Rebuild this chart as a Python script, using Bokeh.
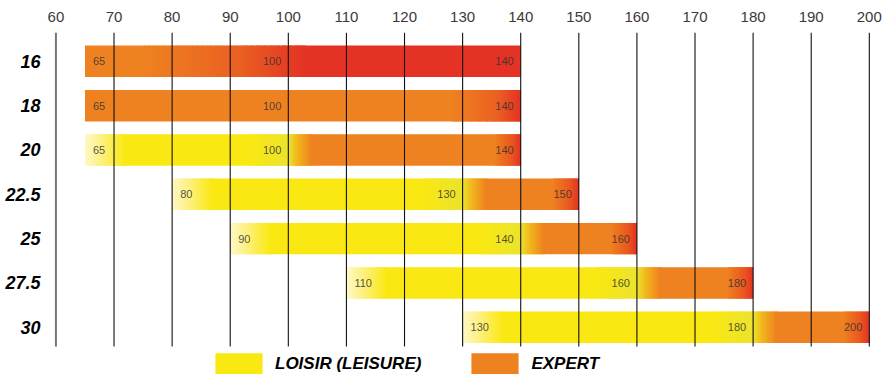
import numpy as np
from bokeh.plotting import figure
from bokeh.models import Range1d, FixedTicker, ColumnDataSource, Legend, LegendItem
from bokeh.embed import file_html
from bokeh.resources import INLINE
from bokeh.core.properties import value

# ---- data ----
rows = ["16", "18", "20", "22.5", "25", "27.5", "30"]
starts = [65, 65, 65, 80, 90, 110, 130]
mids = [100, 100, 100, 130, 140, 160, 180]
ends = [140, 140, 140, 150, 160, 180, 200]
styles = ["orange_red", "orange", "mixed", "mixed", "mixed", "mixed", "mixed"]
ticks = list(range(60, 201, 10))
legend_labels = ["LOISIR (LEISURE)", "EXPERT"]

# ---- colours ----
PALE = "#FEF8C8"
PALE2 = "#FDF07C"
YELLOW = "#FAE812"
DULL = "#EBE32E"
ORANGE = "#EF8220"
RED = "#E43224"


def hex2rgb(h):
    h = h.lstrip("#")
    return np.array([int(h[i:i + 2], 16) for i in (0, 2, 4)], dtype=float)


def rgb2hex(c):
    c = np.clip(np.round(c), 0, 255).astype(int)
    return "#%02x%02x%02x" % tuple(c)


def color_at(stops, x):
    if x <= stops[0][0]:
        return stops[0][1]
    for (x0, c0), (x1, c1) in zip(stops[:-1], stops[1:]):
        if x0 <= x <= x1:
            t = 0 if x1 == x0 else (x - x0) / (x1 - x0)
            return rgb2hex(hex2rgb(c0) * (1 - t) + hex2rgb(c1) * t)
    return stops[-1][1]


def make_stops(style, s, m, e):
    if style == "orange_red":
        return [(s, ORANGE), (s + 10, ORANGE), (m - 8, "#EA5F22"), (m + 3, RED), (e, RED)]
    if style == "orange":
        return [(s, ORANGE), (e - 12, ORANGE), (e - 4, "#EB6022"), (e, RED)]
    return [(s, PALE), (s + 3, PALE2), (s + 7, YELLOW), (m - 7, YELLOW), (m, DULL),
            (m + 1.5, "#F1B81C"), (m + 4, ORANGE), (e - 4.5, ORANGE), (e - 1.5, "#E9561F"), (e, RED)]


BAR_H = 0.71
STEP = 0.2
OVERLAP = 0.2
L, R, T, B, C = [], [], [], [], []
for i, (st, s, m, e) in enumerate(zip(styles, starts, mids, ends)):
    stops = make_stops(st, s, m, e)
    edges = np.arange(s, e + 1e-9, STEP)
    segs = []
    cur_l, cur_c = edges[0], None
    for a, b in zip(edges[:-1], edges[1:]):
        c = color_at(stops, (a + b) / 2)
        if cur_c is None:
            cur_c, cur_l = c, a
        elif c != cur_c:
            segs.append((cur_l, a, cur_c))
            cur_l, cur_c = a, c
    segs.append((cur_l, edges[-1], cur_c))
    for k, (a, b, c) in enumerate(segs):
        rr = b if k == len(segs) - 1 else min(b + OVERLAP, e)
        L.append(a); R.append(rr); T.append(i - BAR_H / 2); B.append(i + BAR_H / 2); C.append(c)

bars = ColumnDataSource(dict(left=L, right=R, top=T, bottom=B, color=C))

p = figure(width=896, height=374,
           x_range=Range1d(59.41, 204.68), y_range=Range1d(7.065, -0.65),
           x_axis_location="above", y_axis_location="left",
           output_backend="svg", toolbar_location=None,
           min_border_left=52, min_border_right=0, min_border_top=32, min_border_bottom=0)
p.outline_line_color = None
p.xgrid.visible = False
p.ygrid.visible = False
p.background_fill_color = "white"
p.border_fill_color = "white"

p.quad(left="left", right="right", top="top", bottom="bottom", fill_color="color",
       line_color=None, source=bars)

# vertical grid lines on top of bars
GRID_TOP, GRID_BOTTOM = -0.65, 6.434
gcol = ["#777777" if t == ticks[0] else "#111111" for t in ticks]
gw = [2.0 if t == ticks[0] else 1.1 for t in ticks]
p.segment(x0=ticks, x1=ticks, y0=[GRID_TOP] * len(ticks), y1=[GRID_BOTTOM] * len(ticks),
          line_color=gcol, line_width=gw)

# value labels inside bars
idx = list(range(len(rows)))
lab_src_start = ColumnDataSource(dict(x=starts, y=idx, t=[str(v) for v in starts]))
lab_src_end = ColumnDataSource(dict(x=mids + ends, y=idx + idx, t=[str(v) for v in mids + ends]))
p.text(x="x", y="y", text="t", source=lab_src_start, x_offset=8, text_align="left",
       text_baseline="middle", text_font=value("Liberation Sans"), text_font_size="11px",
       text_color="#333333", text_alpha=0.85)
p.text(x="x", y="y", text="t", source=lab_src_end, x_offset=-7, text_align="right",
       text_baseline="middle", text_font=value("Liberation Sans"), text_font_size="11px",
       text_color="#333333", text_alpha=0.85)

# axes
xa = p.xaxis[0]
xa.ticker = FixedTicker(ticks=ticks)
xa.axis_line_color = None
xa.major_tick_line_color = None
xa.minor_tick_line_color = None
xa.major_label_text_font = "Liberation Sans"
xa.major_label_text_font_size = "15px"
xa.major_label_text_color = "#3a3a3a"
xa.major_label_standoff = 5

ya = p.yaxis[0]
ya.ticker = FixedTicker(ticks=idx)
ya.major_label_overrides = {i: r for i, r in zip(idx, rows)}
ya.axis_line_color = None
ya.major_tick_line_color = None
ya.minor_tick_line_color = None
ya.major_label_text_font = "Liberation Sans"
ya.major_label_text_font_style = "bold italic"
ya.major_label_text_font_size = "18px"
ya.major_label_text_color = "#000000"
ya.major_label_standoff = 6

# legend (swatches are zero-size quads outside the view)
r_y = p.quad(left=[0], right=[0], top=[0], bottom=[0], fill_color=YELLOW, line_color=None)
r_o = p.quad(left=[0], right=[0], top=[0], bottom=[0], fill_color=ORANGE, line_color=None)
legend = Legend(items=[LegendItem(label=legend_labels[0], renderers=[r_y]),
                       LegendItem(label=legend_labels[1], renderers=[r_o])],
                orientation="horizontal", location=(157, -4),
                glyph_width=59, glyph_height=28, label_standoff=7, spacing=44,
                padding=0, margin=0, border_line_alpha=0, background_fill_alpha=0,
                label_text_font="Liberation Sans", label_text_font_style="bold italic",
                label_text_font_size="17px", label_text_color="#000000")
p.add_layout(legend, "center")

open("out.html", "w").write(file_html(p, INLINE))
